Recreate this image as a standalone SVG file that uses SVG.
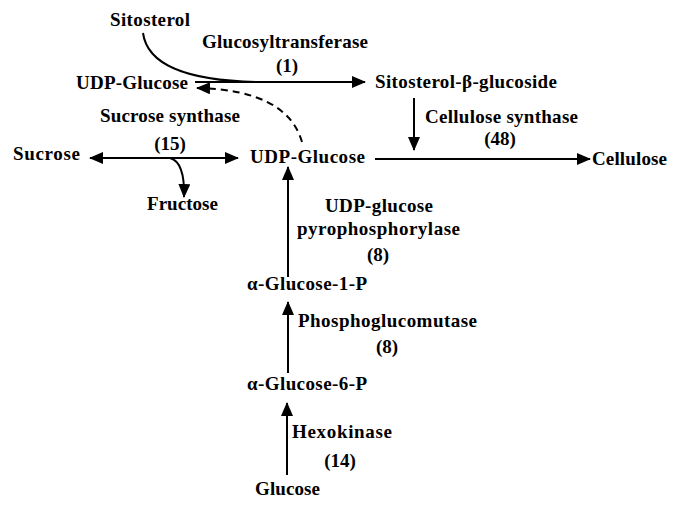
<svg xmlns="http://www.w3.org/2000/svg" width="685" height="508" viewBox="0 0 685 508">
<style>
text{font-family:"Liberation Serif","Times New Roman",serif;font-weight:bold;font-size:19px;fill:#000}
.l{stroke:#000;stroke-width:2;fill:none}
.d{stroke-dasharray:7,5}
</style>
<defs>
<marker id="ah" markerUnits="userSpaceOnUse" markerWidth="14" markerHeight="12" refX="13" refY="6" orient="auto-start-reverse">
<path d="M0,0 L14,6 L0,12 Z" fill="#000"/>
</marker>
</defs>
<rect width="685" height="508" fill="#fff"/>
<g id="connectors">
<path class="l" d="M195,82 L365,82" marker-end="url(#ah)"/>
<path class="l" d="M143,33 C148,70 200,81 258,82"/>
<path class="l d" d="M302,142 Q287,90 197,88" marker-end="url(#ah)"/>
<path class="l" d="M414,98 L414,150" marker-end="url(#ah)"/>
<path class="l" d="M375,159 L590,159" marker-end="url(#ah)"/>
<path class="l" d="M90,158 L238,158" marker-start="url(#ah)" marker-end="url(#ah)"/>
<path class="l" d="M170,158 Q185,162 184,197" marker-end="url(#ah)"/>
<path class="l" d="M288,277 L288,167" marker-end="url(#ah)"/>
<path class="l" d="M288,373 L288,302" marker-end="url(#ah)"/>
<path class="l" d="M287,475 L287,403" marker-end="url(#ah)"/>
</g>
<g id="sitosterol"><text x="110" y="26" textLength="80">Sitosterol</text></g>
<g id="glucosyltransferase"><text x="202" y="48" textLength="166">Glucosyltransferase</text><text x="287" y="72" text-anchor="middle">(1)</text></g>
<g id="udp-glucose-top"><text x="76" y="89" textLength="112">UDP-Glucose</text></g>
<g id="sitosterol-glucoside"><text x="375" y="88" textLength="182">Sitosterol-β-glucoside</text></g>
<g id="cellulose-synthase"><text x="425" y="123" textLength="153">Cellulose synthase</text><text x="500" y="145" text-anchor="middle">(48)</text></g>
<g id="cellulose"><text x="592" y="165" textLength="75">Cellulose</text></g>
<g id="sucrose-synthase"><text x="100" y="122" textLength="140">Sucrose synthase</text><text x="170" y="150" text-anchor="middle">(15)</text></g>
<g id="sucrose"><text x="13" y="160" textLength="67">Sucrose</text></g>
<g id="fructose"><text x="147" y="210" textLength="71">Fructose</text></g>
<g id="udp-glucose"><text x="250" y="163" textLength="115">UDP-Glucose</text></g>
<g id="ugp"><text x="325" y="212" textLength="108">UDP-glucose</text><text x="297" y="235" textLength="163">pyrophosphorylase</text><text x="378" y="261" text-anchor="middle">(8)</text></g>
<g id="g1p"><text x="247" y="290" textLength="120">α-Glucose-1-P</text></g>
<g id="pgm"><text x="298" y="327" textLength="179">Phosphoglucomutase</text><text x="387" y="353" text-anchor="middle">(8)</text></g>
<g id="g6p"><text x="247" y="390" textLength="120">α-Glucose-6-P</text></g>
<g id="hexokinase"><text x="292" y="438" textLength="100">Hexokinase</text><text x="340" y="467" text-anchor="middle">(14)</text></g>
<g id="glucose"><text x="255" y="495" textLength="65">Glucose</text></g>
</svg>
